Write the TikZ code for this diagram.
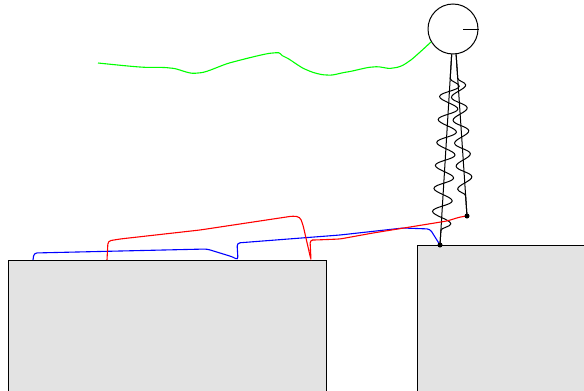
\documentclass[tikz,border=0pt]{standalone}
\usepackage{tikz}
\usetikzlibrary{decorations.pathmorphing}
\definecolor{groundgray}{RGB}{227,227,227}
\tikzset{ground/.style={draw=black,fill=groundgray,line width=1pt},
  limb/.style={draw=black,line width=1pt},
  joint/.style={circle,fill=black,minimum size=5pt,inner sep=0pt},
  spring/.style={draw=black,line width=1pt,decorate,
    decoration={snake,amplitude=9.5pt,segment length=23pt}},
  cable/.style={line width=1.1pt,rounded corners=3pt} }

\begin{document}
\begin{tikzpicture}[x=1pt,y=-1pt]
  \useasboundingbox (0,0) rectangle (584,391);
  \clip (0,0) rectangle (584,391);

  % ledges
  \draw[ground] (8,400) -- (8,260) -- (326,260) -- (326,400);
  \draw[ground] (417,400) -- (417,245) -- (600,245) -- (600,400);

  \node[circle,draw,line width=1pt,minimum size=50pt,inner sep=0pt] (head) at (453,29) {};
  \coordinate (footA) at (440,245);
  \coordinate (footB) at (467,216);

  \draw[limb] (head.center) ++(10,0) -- (head.east);
  \draw[limb] (head.-93) -- (footA);
  \draw[limb] (head.-83) -- (footB);
  \draw[spring,decoration={pre length=24pt,post length=5pt}] (head.-93) -- (footA);
  \draw[spring,decoration={amplitude=7.5pt,pre length=24pt,post length=11pt}] (head.-83) -- (footB);

  % tethers
  \draw[cable,green] plot[smooth,tension=0.55] coordinates {(98,63) (140,67) (170,68) (198,73)
    (233,62) (273,53) (285,57) (307,70) (327,75) (347,72) (373,67) (393,68) (408,62) (431,42)};
  \draw[cable,blue] (33,260) -- (34,253) -- (207,249) -- (233,257) -- (238,260)
    -- (237,243) -- (340,235) -- (403,228) -- (430,229) -- (footA);
  \draw[cable,red] (107,260) -- (108,241) -- (120,239) -- (200,230) -- (293,216) -- (300,217)
    -- (303,225) -- (311,260) -- (310,240) -- (315,240) -- (340,239) -- (373,233)
    -- (410,227) -- (447,221) -- (460,217) -- (footB);

  \node[joint] at (footA) {};
  \node[joint] at (footB) {};
\end{tikzpicture}
\end{document}
